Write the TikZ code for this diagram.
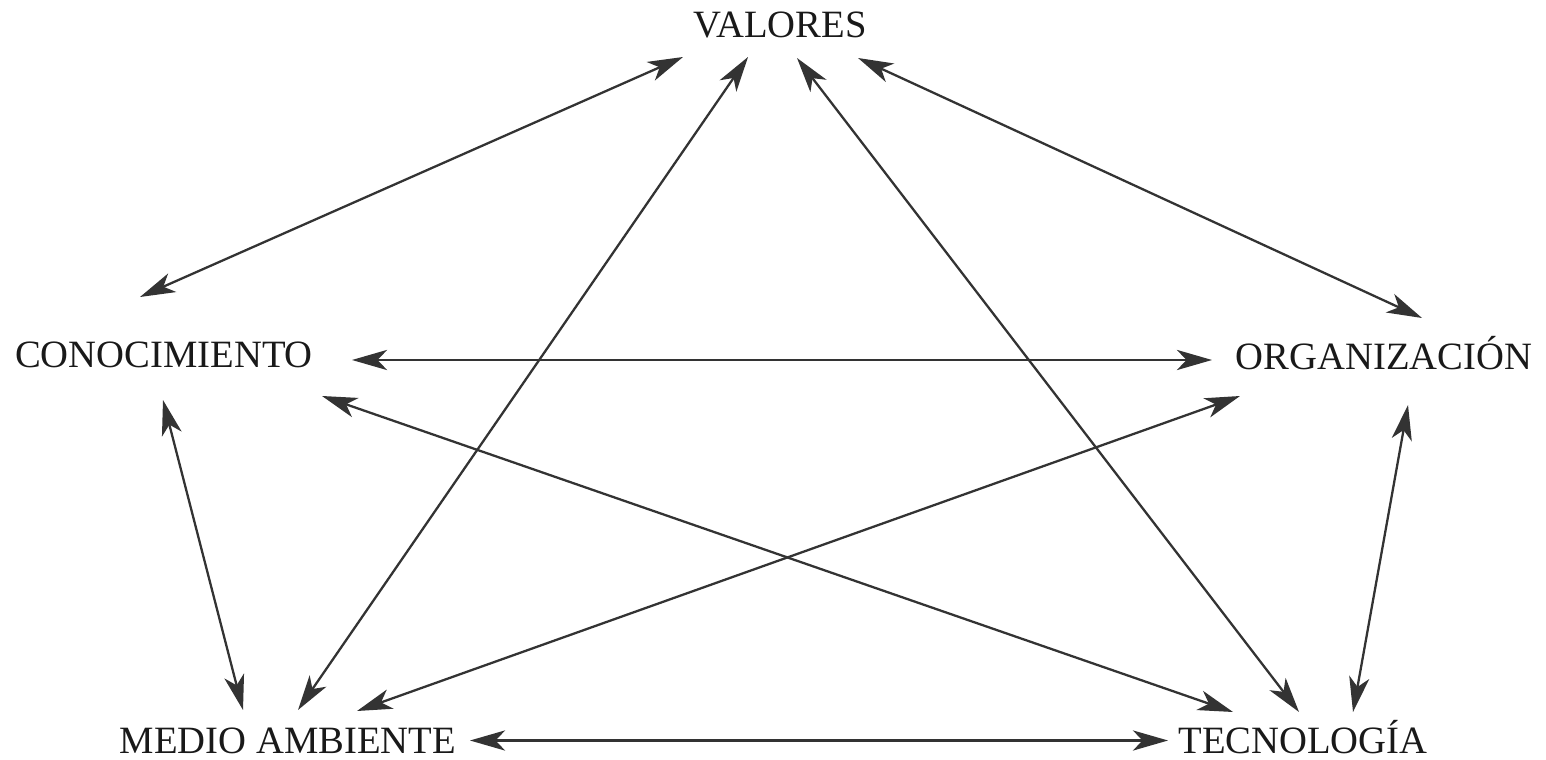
\documentclass[tikz,border=0pt]{standalone}
\usepackage{fontspec}
\setmainfont{Liberation Serif}
\usetikzlibrary{calc,arrows.meta}

\tikzset{
  concepto/.style = {inner sep=0pt, text height=0.5cm, text depth=0pt, font=\fontsize{22}{25}\selectfont, text=black!90},
  dar/.style = {draw, line width=1.3pt, black!80, {Stealth[length=20pt,width=11.5pt,inset=5.5pt]}-{Stealth[length=20pt,width=11.5pt,inset=5.5pt]}}
}

\begin{document}
\begin{tikzpicture}
            \useasboundingbox(0,0)rectangle(30.92,15.18);
            \node[concepto](val)at(15.6,14.68){VALORES};
            \node[concepto](con)at(3.28,8.08){CONOCIMIENTO};
            \node[concepto](org)at(27.68,8.04){ORGANIZACIÓN};
            \node[concepto](med)at(5.76,0.37){MEDIO AMBIENTE};
            \node[concepto](tec)at(26.06,0.37){TECNOLOGÍA};
            %desde VALORES
            \path[dar]($(val)+(-1.94,-0.64)$)to($(con)+(-0.48,1.16)$);
            \path[dar]($(val)+(-0.64,-0.64)$)to($(med)+(0.2,0.61)$);
            \path[dar]($(val)+(0.34,-0.66)$)to($(tec)+(-0.08,0.57)$);
            \path[dar]($(val)+(1.56,-0.66)$)to($(org)+(0.76,0.78)$);
            %horizontales
            \path[dar]($(con)+(3.76,-0.1)$)to($(org)+(-3.44,-0.06)$);
            \path[dar]($(med)+(3.64,0)$)to($(tec)+(-2.7,0)$);
            %cruzadas
            \path[dar]($(con)+(-0.02,-0.9)$)to($(med)+(-0.9,0.61)$);
            \path[dar]($(con)+(3.16,-0.82)$)to($(tec)+(-1.4,0.57)$);
            \path[dar]($(org)+(-2.88,-0.78)$)to($(med)+(1.38,0.59)$);
            \path[dar]($(org)+(0.48,-0.96)$)to($(tec)+(1.0,0.57)$);
        \end{tikzpicture}
\end{document}
